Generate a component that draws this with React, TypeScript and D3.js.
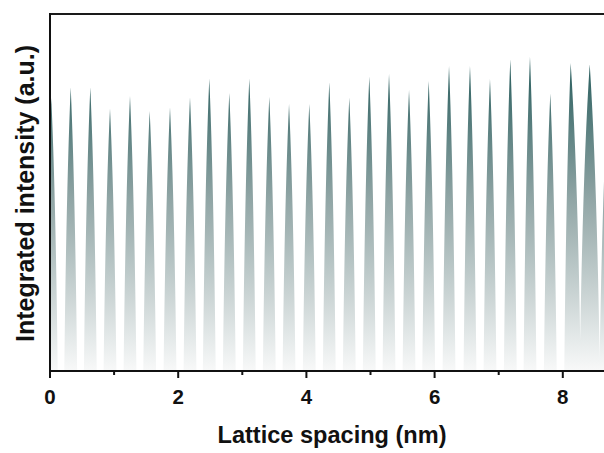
import React from "react";
import * as d3 from "d3";

// Peak positions (nm) and integrated intensities (a.u.)
const peakPositions = [
  0.02, 0.323, 0.629, 0.936, 1.248, 1.555, 1.872, 2.184, 2.485, 2.797, 3.109,
  3.421, 3.729, 4.045, 4.357, 4.669, 4.981, 5.289, 5.601, 5.908, 6.225, 6.552,
  6.864, 7.181, 7.488, 7.805, 8.123, 8.42, 8.73,
];
const peakHeights = [
  76.5, 79.5, 79.5, 73.5, 77.0, 72.8, 73.9, 76.7, 81.9, 77.9, 81.9, 76.8, 74.8,
  74.8, 80.9, 76.6, 82.5, 83.2, 78.7, 81.2, 85.4, 85.4, 81.8, 87.3, 88.0, 77.7,
  86.3, 85.9, 86.0,
];
// Minimum between consecutive peaks (a.u.)
const valleyLevels = [
  0, 0, 0, 0, 0, 0, 0, 0, 0, 0, 0, 0, 0, 0, 0, 0, 0, 0, 0, 0, 0, 0, 0, 0, 0, 0,
  8.7, 3.6,
];
const peakHalfBase = 0.1; // nm
const xTicksMajor = [0, 2, 4, 6, 8];
const xTicksMinor = [1, 3, 5, 7];

const W = 604;
const H = 453;
const left = 50;
const top = 14;
const bottom = 371;

export default function App() {
  const x = d3.scaleLinear().domain([0, 9]).range([left, left + 9 * 64.1]);
  const y = d3.scaleLinear().domain([0, 100]).range([bottom, top]);

  const n = peakPositions.length;
  const firstLeftX = x(peakPositions[0] - peakHalfBase);
  const path = d3.path();
  let cx0 = firstLeftX;
  let cy0 = y(0);
  path.moveTo(cx0, cy0);
  for (let i = 0; i < n; i++) {
    const pos = peakPositions[i];
    const tipX = x(pos);
    const tipY = y(peakHeights[i]);
    // left side of the spike, from its base up to the tip
    path.quadraticCurveTo(
      tipX + 0.69 * (cx0 - tipX),
      tipY + 0.36 * (cy0 - tipY),
      tipX,
      tipY
    );
    const lvl = i < n - 1 ? valleyLevels[i] : 0;
    let rx: number, ry: number;
    if (i < n - 1 && lvl > 0) {
      rx = x((pos + peakPositions[i + 1]) / 2);
      ry = y(lvl);
    } else {
      rx = x(pos + peakHalfBase);
      ry = y(0);
    }
    path.quadraticCurveTo(
      tipX + 0.69 * (rx - tipX),
      tipY + 0.36 * (ry - tipY),
      rx,
      ry
    );
    if (i < n - 1 && lvl === 0) {
      cx0 = x(peakPositions[i + 1] - peakHalfBase);
      cy0 = y(0);
      path.lineTo(cx0, cy0);
    } else {
      cx0 = rx;
      cy0 = ry;
    }
  }
  path.lineTo(firstLeftX, y(0));
  path.closePath();

  const font = "'Liberation Sans', Arial, Helvetica, sans-serif";

  return (
    <svg
      width={W}
      height={H}
      style={{ position: "absolute", left: 0, top: 0, background: "#fff" }}
    >
      <defs>
        <linearGradient
          id="peakGrad"
          gradientUnits="userSpaceOnUse"
          x1={0}
          x2={0}
          y1={y(88)}
          y2={y(0)}
        >
          <stop offset="0" stopColor="#245a5a" />
          <stop offset="0.45" stopColor="#90a5a5" />
          <stop offset="1" stopColor="#f8f9f9" />
        </linearGradient>
        <clipPath id="plotClip">
          <rect x={left} y={top} width={W - left} height={bottom - top} />
        </clipPath>
      </defs>
      <rect x={0} y={0} width={W} height={H} fill="#fff" />
      <g clipPath="url(#plotClip)">
        <path d={path.toString()} fill="url(#peakGrad)" />
      </g>
      {/* frame */}
      <line x1={left} x2={W} y1={top} y2={top} stroke="#1a1a1a" strokeWidth={2} />
      <line x1={left} x2={left} y1={top - 1} y2={bottom + 1} stroke="#111" strokeWidth={2} />
      <line x1={left - 1} x2={W} y1={bottom} y2={bottom} stroke="#111" strokeWidth={2} />
      {xTicksMajor.map((t) => (
        <line
          key={"M" + t}
          x1={x(t)}
          x2={x(t)}
          y1={bottom}
          y2={bottom + 7}
          stroke="#111"
          strokeWidth={2}
        />
      ))}
      {xTicksMinor.map((t) => (
        <line
          key={"m" + t}
          x1={x(t)}
          x2={x(t)}
          y1={bottom}
          y2={bottom + 4}
          stroke="#111"
          strokeWidth={2}
        />
      ))}
      {xTicksMajor.map((t) => (
        <text
          key={"l" + t}
          x={x(t)}
          y={404}
          textAnchor="middle"
          fontFamily={font}
          fontWeight="bold"
          fontSize={20.5}
          fill="#111"
        >
          {t}
        </text>
      ))}
      <text
        x={332}
        y={443}
        textAnchor="middle"
        fontFamily={font}
        fontWeight="bold"
        fontSize={24.5}
        fill="#111"
        textLength={229}
        lengthAdjust="spacingAndGlyphs"
      >
        Lattice spacing (nm)
      </text>
      <text
        transform={`translate(34,193.5) rotate(-90)`}
        textAnchor="middle"
        fontFamily={font}
        fontWeight="bold"
        fontSize={25}
        fill="#111"
        textLength={297}
        lengthAdjust="spacingAndGlyphs"
      >
        Integrated intensity (a.u.)
      </text>
    </svg>
  );
}
